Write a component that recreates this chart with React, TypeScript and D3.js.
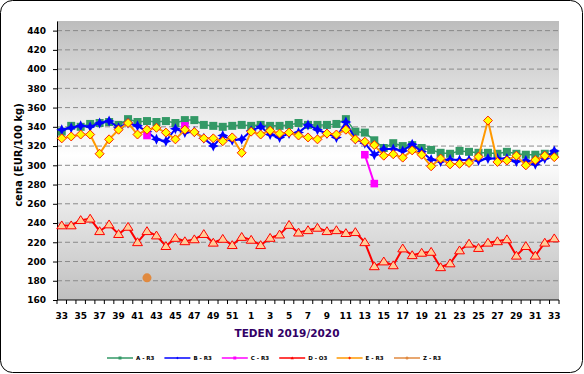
import React, { useEffect, useRef } from 'react'
import * as d3 from 'd3'

// weeks 33/2019 .. 33/2020
const weeks = [33, 34, 35, 36, 37, 38, 39, 40, 41, 42, 43, 44, 45, 46, 47, 48, 49, 50, 51, 52,
  1, 2, 3, 4, 5, 6, 7, 8, 9, 10, 11, 12, 13, 14, 15, 16, 17, 18, 19, 20, 21, 22, 23, 24, 25, 26, 27, 28, 29, 30, 31, 32, 33]

const seriesNames = ['A - R3', 'B - R3', 'C - R3', 'D - O3', 'E - R3', 'Z - R3']

const seriesA = [335, 341, 340, 343, 344, 345, 342, 348, 345, 346, 345, 346, 344, 347, 347, 342, 341, 340, 341, 342,
  341, 342, 341, 341, 342, 344, 342, 342, 342, 343, 348, 335, 334, 326, 318, 323, 320, 321, 318, 316, 313, 312, 315,
  314, 313, 313, 312, 314, 312, 311, 311, 312, 312]

const seriesB = [337, 339, 341, 340, 344, 346, 339, 344, 341, 335, 327, 325, 338, 334, 335, 328, 320, 331, 326, 327,
  336, 340, 332, 329, 333, 334, 342, 337, 333, 329, 345, 327, 323, 311, 317, 317, 315, 322, 314, 306, 304, 306, 305.5,
  305.5, 305, 307, 307, 307, 304, 305, 301, 307, 315]

const seriesC: (number | null)[] = [null, null, null, null, null, null, null, null, null, 331, null, null, null, 341,
  null, null, null, null, null, null, null, null, null, null, null, null, null, null, null, null, null, null, 311, 281,
  null, null, null, null, null, null, null, null, null, null, null, null, null, null, null, null, null, null, null]

const seriesD = [237.5, 237.5, 243, 244.5, 231.5, 238.5, 228.5, 236, 220, 231.5, 227, 216, 224.5, 221, 223, 228.5,
  219.5, 223.5, 217, 225.5, 222.5, 217, 224.5, 228, 238, 230, 232.5, 235, 231.5, 232.5, 229.5, 230.5, 220, 195, 200,
  196, 213.5, 206.5, 209, 210, 194, 198, 211.5, 218.5, 214, 219.5, 221, 223, 206, 216, 206, 219.5, 224]

const seriesE = [328, 330, 332, 332, 312, 327, 337, 344, 332, 337, 339, 334, 327, 337, 334.5, 328, 328, 325, 329, 313,
  335, 332, 336, 333, 334, 331, 329, 327, 333, 332, 337, 327, 324.5, 321, 310, 311.5, 308, 315.5, 311, 299, 307, 301,
  301.5, 302.5, 309, 346.5, 303.5, 305, 310, 300, 305.5, 310, 308.5]

const seriesZ: (number | null)[] = weeks.map((_, i) => (i === 9 ? 183 : null))

const yTicks = d3.range(160, 441, 20)

const star4 = (r: number) => {
  const k = r * 0.32
  return `M0,${-r}L${k},${-k}L${r},0L${k},${k}L0,${r}L${-k},${k}L${-r},0L${-k},${-k}Z`
}
const diamond = (r: number) => `M0,${-r}L${r},0L0,${r}L${-r},0Z`
const square = (r: number) => `M${-r},${-r}H${r}V${r}H${-r}Z`
const triangle = (r: number) => `M0,${-r}L${r * 1.1},${r * 0.75}L${-r * 1.1},${r * 0.75}Z`
const circle = (r: number) => `M${r},0A${r},${r} 0 1,1 ${-r},0A${r},${r} 0 1,1 ${r},0Z`

export default function App() {
  const ref = useRef<SVGSVGElement | null>(null)

  useEffect(() => {
    if (!ref.current) return
    const svg = d3.select(ref.current)
    svg.selectAll('*').remove()

    const left = 57, right = 559, top = 21, bottom = 300
    const font = "'DejaVu Sans', Verdana, sans-serif"

    const grad = svg.append('defs').append('linearGradient').attr('id', 'plotBg')
      .attr('x1', 0).attr('y1', 0).attr('x2', 0).attr('y2', 1)
    grad.append('stop').attr('offset', '0%').attr('stop-color', '#bdbdbd')
    grad.append('stop').attr('offset', '48%').attr('stop-color', '#ffffff')
    grad.append('stop').attr('offset', '100%').attr('stop-color', '#bfbfbf')

    svg.append('rect').attr('x', 0.5).attr('y', 0.5).attr('width', 582).attr('height', 372).attr('rx', 12)
      .attr('fill', '#fff').attr('stroke', '#000')
    svg.append('rect').attr('x', left).attr('y', top).attr('width', right - left).attr('height', bottom - top)
      .attr('fill', 'url(#plotBg)')

    const x = d3.scaleBand<number>().domain(d3.range(weeks.length)).range([left, right])
    const cx = (i: number) => x(i)! + x.bandwidth() / 2
    const y = d3.scaleLinear().domain([160, 450]).range([bottom, top])

    // dashed gridlines
    svg.append('g').selectAll('line').data(yTicks.filter(v => v > 160)).join('line')
      .attr('x1', left).attr('x2', right).attr('y1', d => y(d)).attr('y2', d => y(d))
      .attr('stroke', '#8a8a8a').attr('stroke-dasharray', '5,3')

    // y axis
    const yAxis = svg.append('g').attr('transform', `translate(${left},0)`)
      .call(d3.axisLeft(y).tickValues(yTicks).tickSize(4).tickPadding(7).tickSizeOuter(0))
    yAxis.select('.domain').attr('stroke', '#000')
    yAxis.selectAll('text').attr('font-family', font).attr('font-weight', 'bold').attr('font-size', 9).attr('fill', '#000')

    // x axis
    svg.append('line').attr('x1', left).attr('x2', right).attr('y1', bottom).attr('y2', bottom).attr('stroke', '#000')
    svg.append('g').selectAll('line').data(d3.range(weeks.length + 1)).join('line')
      .attr('x1', k => left + k * x.step()).attr('x2', k => left + k * x.step())
      .attr('y1', bottom).attr('y2', bottom + 4).attr('stroke', '#000')
    svg.append('g').selectAll('text').data(d3.range(weeks.length).filter(i => i % 2 === 0)).join('text')
      .attr('x', i => cx(i)).attr('y', 318.5).attr('text-anchor', 'middle')
      .attr('font-family', font).attr('font-weight', 'bold').attr('font-size', 9).text(i => weeks[i])

    // titles
    svg.append('text').attr('transform', 'translate(22,155) rotate(-90)').attr('text-anchor', 'middle')
      .attr('font-family', font).attr('font-weight', 'bold').attr('font-size', 10).text('cena (EUR/100 kg)')
    svg.append('text').attr('x', 287).attr('y', 337).attr('text-anchor', 'middle').attr('fill', '#330066')
      .attr('font-family', font).attr('font-weight', 'bold').attr('font-size', 10.5).text('TEDEN 2019/2020')

    type Spec = {
      data: (number | null)[], line: string, width: number, marker: (r: number) => string,
      r: number, fill: string, stroke: string, noLine?: boolean
    }
    const specs: Spec[] = [
      { data: seriesA, line: '#339966', width: 1.5, marker: square, r: 4, fill: '#339966', stroke: 'none' },
      { data: seriesB, line: '#0000ff', width: 2, marker: star4, r: 5.5, fill: '#0000ff', stroke: 'none' },
      { data: seriesC, line: '#ff00ff', width: 2, marker: square, r: 3.8, fill: '#ff00ff', stroke: 'none' },
      { data: seriesD, line: '#ff0000', width: 2, marker: triangle, r: 4.5, fill: '#ffcc99', stroke: '#ff0000' },
      { data: seriesE, line: '#ff9900', width: 2, marker: diamond, r: 4.5, fill: '#ffff00', stroke: '#ff2200' },
      { data: seriesZ, line: '#e08a40', width: 2, marker: circle, r: 4.5, fill: '#e08a40', stroke: 'none' },
    ]

    const line = d3.line<number | null>().defined(d => d != null).x((_, i) => cx(i)).y(d => y(d as number))

    specs.forEach(s => {
      svg.append('path').datum(s.data).attr('d', line).attr('fill', 'none')
        .attr('stroke', s.line).attr('stroke-width', s.width).attr('stroke-linejoin', 'round')
      svg.append('g').selectAll('path')
        .data(s.data.map((v, i) => ({ v, i })).filter(d => d.v != null)).join('path')
        .attr('transform', d => `translate(${cx(d.i)},${y(d.v as number)})`)
        .attr('d', s.marker(s.r)).attr('fill', s.fill).attr('stroke', s.stroke).attr('stroke-width', 1)
    })

    // legend
    const lg = svg.append('g')
    specs.forEach((s, k) => {
      const lx = 107 + k * 57.4, ly = 358
      lg.append('line').attr('x1', lx).attr('x2', lx + 26).attr('y1', ly).attr('y2', ly)
        .attr('stroke', s.line).attr('stroke-width', 1.5)
      lg.append('path').attr('transform', `translate(${lx + 13},${ly})`).attr('d', s.marker(1.5))
        .attr('fill', s.stroke === 'none' ? s.fill : s.stroke)
      lg.append('text').attr('x', lx + 29).attr('y', ly + 2).attr('font-family', font).attr('font-weight', 'bold')
        .attr('font-size', 5.5).text(seriesNames[k])
    })
  }, [])

  return <svg ref={ref} width={584} height={374} style={{ position: 'absolute', left: 0, top: 0, display: 'block' }} />
}
